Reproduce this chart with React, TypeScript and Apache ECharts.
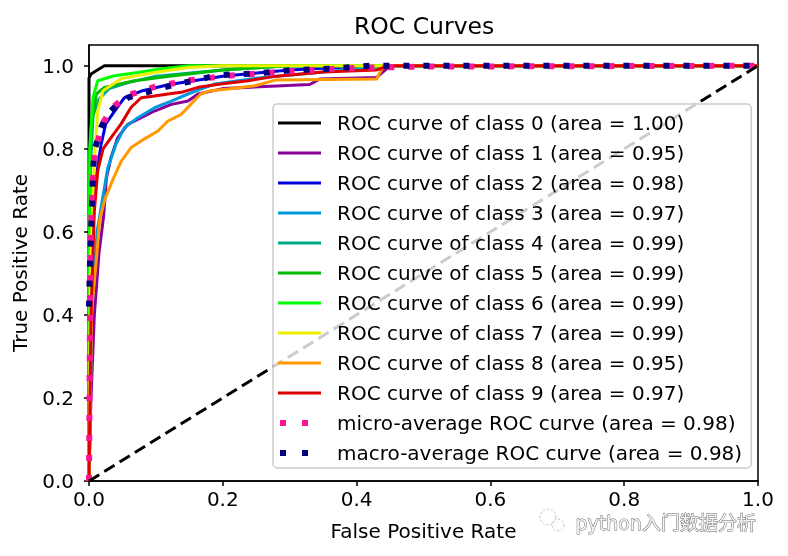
import React, { useEffect, useRef } from "react";
import * as echarts from "echarts";

const FONT = "'DejaVu Sans', 'Noto Sans', sans-serif";

const xTicks = [0, 0.2, 0.4, 0.6, 0.8, 1.0];
const yTicks = [0, 0.2, 0.4, 0.6, 0.8, 1.0];

const seriesNames = [
  "ROC curve of class 0 (area = 1.00)",
  "ROC curve of class 1 (area = 0.95)",
  "ROC curve of class 2 (area = 0.98)",
  "ROC curve of class 3 (area = 0.97)",
  "ROC curve of class 4 (area = 0.99)",
  "ROC curve of class 5 (area = 0.99)",
  "ROC curve of class 6 (area = 0.99)",
  "ROC curve of class 7 (area = 0.99)",
  "ROC curve of class 8 (area = 0.95)",
  "ROC curve of class 9 (area = 0.97)",
  "micro-average ROC curve (area = 0.98)",
  "macro-average ROC curve (area = 0.98)",
];

const colors = [
  "#000000", "#880099", "#0000dd", "#0099dd", "#00aa88",
  "#00bb00", "#00ff00", "#eeee00", "#ff9900", "#dd0000",
  "#ff1493", "#000080",
];

// [false positive rate, true positive rate]
const class0 = [[0, 0], [0, 0.97], [0.003, 0.98], [0.023, 1.0], [1, 1]];
const class1 = [[0, 0], [0.003, 0.2], [0.008, 0.4], [0.015, 0.55], [0.022, 0.64], [0.026, 0.73], [0.033, 0.78], [0.043, 0.827], [0.058, 0.859], [0.078, 0.875], [0.098, 0.891], [0.123, 0.907], [0.148, 0.915], [0.163, 0.932], [0.2, 0.945], [0.33, 0.955], [0.345, 0.968], [0.43, 0.972], [0.45, 1.0], [1, 1]];
const class2 = [[0, 0], [0.002, 0.5], [0.008, 0.7], [0.018, 0.81], [0.025, 0.86], [0.038, 0.89], [0.053, 0.923], [0.08, 0.94], [0.12, 0.955], [0.2, 0.975], [0.3, 0.99], [0.42, 1], [1, 1]];
const class3 = [[0, 0], [0.004, 0.4], [0.012, 0.6], [0.028, 0.754], [0.04, 0.81], [0.053, 0.851], [0.073, 0.875], [0.098, 0.899], [0.123, 0.915], [0.148, 0.932], [0.167, 0.944], [0.188, 0.956], [0.25, 0.97], [0.35, 0.985], [0.45, 1], [1, 1]];
const class4 = [[0, 0], [0.002, 0.75], [0.006, 0.88], [0.015, 0.92], [0.03, 0.945], [0.06, 0.96], [0.1, 0.975], [0.2, 0.99], [0.3, 1], [1, 1]];
const class5 = [[0, 0], [0.001, 0.7], [0.003, 0.85], [0.011, 0.932], [0.023, 0.948], [0.048, 0.957], [0.068, 0.964], [0.12, 0.975], [0.2, 0.99], [0.3, 1], [1, 1]];
const class6 = [[0, 0], [0.001, 0.8], [0.006, 0.923], [0.013, 0.964], [0.038, 0.976], [0.073, 0.984], [0.108, 0.993], [0.15, 1], [1, 1]];
const class7 = [[0, 0], [0.002, 0.5], [0.008, 0.77], [0.013, 0.89], [0.021, 0.94], [0.048, 0.969], [0.098, 0.984], [0.148, 0.996], [0.2, 1], [1, 1]];
const class8 = [[0, 0], [0.002, 0.2], [0.004, 0.413], [0.012, 0.55], [0.016, 0.63], [0.024, 0.68], [0.036, 0.727], [0.048, 0.77], [0.063, 0.803], [0.083, 0.824], [0.103, 0.843], [0.118, 0.867], [0.138, 0.883], [0.152, 0.907], [0.167, 0.932], [0.182, 0.94], [0.208, 0.944], [0.248, 0.952], [0.28, 0.966], [0.43, 0.968], [0.44, 1], [1, 1]];
const class9 = [[0, 0], [0.003, 0.4], [0.008, 0.65], [0.013, 0.746], [0.021, 0.8], [0.033, 0.827], [0.048, 0.86], [0.063, 0.9], [0.078, 0.923], [0.098, 0.927], [0.118, 0.932], [0.138, 0.936], [0.163, 0.948], [0.197, 0.956], [0.238, 0.964], [0.28, 0.975], [0.35, 0.985], [0.43, 0.99], [0.45, 1], [1, 1]];
const microAvg = [[0, 0], [0.002, 0.55], [0.005, 0.72], [0.01, 0.8], [0.02, 0.86], [0.035, 0.9], [0.06, 0.93], [0.1, 0.95], [0.15, 0.965], [0.2, 0.975], [0.3, 0.987], [0.4, 0.995], [0.5, 0.998], [1, 1]];
const macroAvg = [[0, 0.42], [0.001, 0.5], [0.006, 0.746], [0.008, 0.795], [0.018, 0.851], [0.028, 0.884], [0.043, 0.908], [0.058, 0.923], [0.078, 0.932], [0.103, 0.944], [0.133, 0.957], [0.158, 0.964], [0.188, 0.976], [0.218, 0.98], [0.248, 0.981], [0.3, 0.989], [0.36, 0.993], [0.42, 1], [1, 1]];
const chance = [[0, 0], [1, 1]];

const curves = [class0, class1, class2, class3, class4, class5, class6, class7, class8, class9, microAvg, macroAvg];

const LINE_ICON = "path://M0,0H43V3H0Z";
const DOT_ICON = "path://M0,3L43,3Z M2,0H8V6H2Z M24,0H30V6H24Z";

export default function App() {
  const ref = useRef<HTMLDivElement>(null);
  useEffect(() => {
    const chart = echarts.init(ref.current!, null, { renderer: "svg" });
    const series: any[] = curves.map((d, i) => {
      const dotted = i >= 10;
      return {
        name: seriesNames[i],
        type: "line",
        data: d,
        showSymbol: false,
        symbol: "none",
        color: colors[i],
        lineStyle: {
          color: colors[i],
          width: dotted ? 6 : 3,
          type: dotted ? [6, 14] : "solid",
          cap: "butt",
        },
        silent: true,
      };
    });
    series.push({
      name: "chance",
      type: "line",
      data: chance,
      showSymbol: false,
      symbol: "none",
      lineStyle: { color: "#000", width: 3, type: [12, 6] },
      silent: true,
    });
    chart.setOption({
      animation: false,
      title: {
        text: "ROC Curves",
        left: 349,
        top: 9,
        textStyle: { fontFamily: FONT, fontSize: 23.5, fontWeight: "normal", color: "#000" },
      },
      grid: {
        left: 89, right: 30, top: 45, bottom: 75,
        show: true, borderColor: "#000", borderWidth: 1.5, backgroundColor: "#fff",
      },
      xAxis: {
        type: "value", min: 0, max: 1, interval: 0.2,
        name: "False Positive Rate", nameLocation: "middle", nameGap: 40,
        nameTextStyle: { fontFamily: FONT, fontSize: 20, color: "#000" },
        axisLine: { show: true, lineStyle: { color: "#000", width: 1.5 } },
        axisTick: { show: true, length: 5, customValues: xTicks, lineStyle: { color: "#000", width: 1.5 } },
        axisLabel: { fontFamily: FONT, fontSize: 20, color: "#000", margin: 8, customValues: xTicks, formatter: (v: number) => v.toFixed(1) },
        splitLine: { show: false },
      },
      yAxis: {
        type: "value", min: 0, max: 1.05, interval: 0.2,
        name: "True Positive Rate", nameLocation: "middle", nameGap: 59,
        nameTextStyle: { fontFamily: FONT, fontSize: 20, color: "#000" },
        axisLine: { show: true, lineStyle: { color: "#000", width: 1.5 } },
        axisTick: { show: true, length: 5, customValues: yTicks, lineStyle: { color: "#000", width: 1.5 } },
        axisLabel: { fontFamily: FONT, fontSize: 20, color: "#000", margin: 15, customValues: yTicks, formatter: (v: number) => v.toFixed(1) },
        splitLine: { show: false },
      },
      legend: {
        orient: "vertical", left: 273, top: 104,
        itemWidth: 43, itemHeight: 6, itemGap: 10,
        padding: [9, 9, 5, 5],
        backgroundColor: "rgba(255,255,255,0.8)",
        borderColor: "#cccccc", borderWidth: 1.5, borderRadius: 4,
        selectedMode: false,
        textStyle: { fontFamily: FONT, fontSize: 20, color: "#000", lineHeight: 20, padding: [0, 0, 0, 11] },
        data: seriesNames.map((n, i) => ({
          name: n,
          icon: i >= 10 ? DOT_ICON : LINE_ICON,
          itemStyle: { color: colors[i], borderWidth: 0 },
        })),
      },
      graphic: [
        { type: "circle", shape: { cx: 548, cy: 517, r: 8 }, style: { fill: "none", stroke: "#bbb", lineWidth: 1, lineDash: [2, 2] } },
        { type: "circle", shape: { cx: 558, cy: 525, r: 6 }, style: { fill: "none", stroke: "#bbb", lineWidth: 1, lineDash: [2, 2] } },
        {
          type: "text", left: 575, top: 513,
          style: { text: "python入门数据分析", fontFamily: "'DejaVu Sans', 'Noto Sans CJK SC', sans-serif", fontSize: 19, fill: "#f4f4f4", stroke: "#666", lineWidth: 0.9 },
        },
      ],
      series,
    });
    return () => chart.dispose();
  }, []);
  return <div ref={ref} style={{ position: "fixed", left: 0, top: 0, width: 788, height: 556 }} />;
}
